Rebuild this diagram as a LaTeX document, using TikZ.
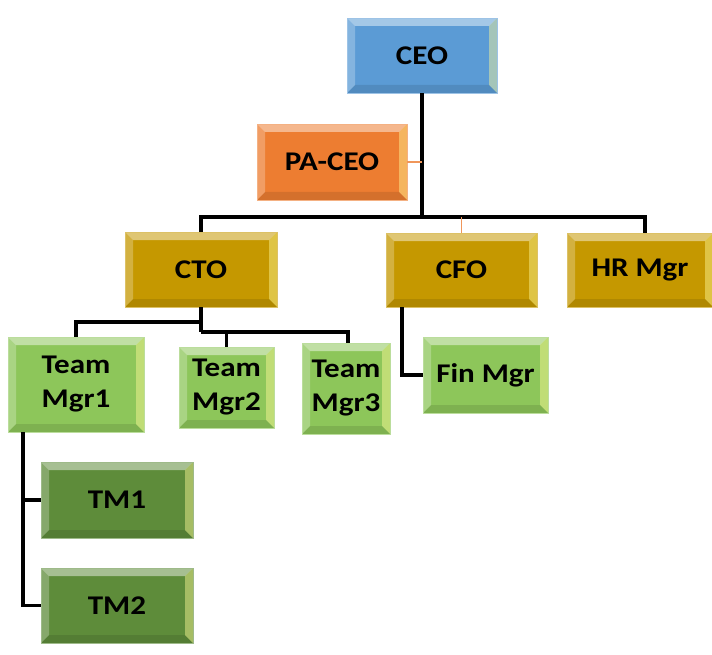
\documentclass[tikz,border=0pt]{standalone}
\usepackage{fontspec}
\setmainfont{Carlito}[FakeStretch=1.15]
\definecolor{ceoblue}{RGB}{91,155,213}
\definecolor{paorange}{RGB}{237,125,49}
\definecolor{gold}{RGB}{197,152,0}
\definecolor{lgreen}{RGB}{141,198,90}
\definecolor{dgreen}{RGB}{94,140,58}
\definecolor{lineorange}{RGB}{240,150,90}
\tikzset{
  bev/.style={rectangle, inner sep=0pt, fill=#1, draw=#1!60!white, line width=0.8pt,
    font=\bfseries\fontsize{27}{34}\selectfont, align=center, text=black,
    path picture={
      \fill[white,opacity=0.45] (path picture bounding box.north west) -- (path picture bounding box.north east)
        -- ([xshift=-8pt,yshift=-8pt]path picture bounding box.north east) -- ([xshift=8pt,yshift=-8pt]path picture bounding box.north west) -- cycle;
      \fill[white,opacity=0.25] (path picture bounding box.north west) -- ([xshift=8pt,yshift=-8pt]path picture bounding box.north west)
        -- ([xshift=8pt,yshift=8pt]path picture bounding box.south west) -- (path picture bounding box.south west) -- cycle;
      \fill[yellow!40!white,opacity=0.45] (path picture bounding box.north east) -- ([xshift=-8pt,yshift=-8pt]path picture bounding box.north east)
        -- ([xshift=-8pt,yshift=8pt]path picture bounding box.south east) -- (path picture bounding box.south east) -- cycle;
      \fill[black,opacity=0.10] (path picture bounding box.south west) -- ([xshift=8pt,yshift=8pt]path picture bounding box.south west)
        -- ([xshift=-8pt,yshift=8pt]path picture bounding box.south east) -- (path picture bounding box.south east) -- cycle;
    }},
  conn/.style={line width=3.2pt, black},
  oconn/.style={line width=1.5pt, lineorange},
}
\begin{document}
\begin{tikzpicture}[x=1pt,y=-1pt]
\useasboundingbox (0,0) rectangle (712,655);
\coordinate (bus) at (422,217);
\coordinate (c1) at (201,322);
\coordinate (c2) at (201,332);
\node[bev=ceoblue, minimum width=150pt, minimum height=75pt] (CEO) at (422,55.5) {CEO};
\node[bev=paorange, minimum width=150pt, minimum height=76pt] (PA) at (332,162) {PA-CEO};
\node[bev=gold, minimum width=152pt, minimum height=75pt] (CTO) at (201,269.5) {CTO};
\node[bev=gold, minimum width=151pt, minimum height=74pt] (CFO) at (461.5,270) {CFO};
\node[bev=gold, minimum width=146pt, minimum height=74pt] (HR) at (640,270) {HR Mgr};
\node[bev=lgreen, minimum width=136pt, minimum height=95pt] (TG1) at (76,384.5) {Team\\Mgr1};
\node[bev=lgreen, minimum width=95pt, minimum height=81pt] (TG2) at (226.5,387.5) {Team\\Mgr2};
\node[bev=lgreen, minimum width=88pt, minimum height=91pt] (TG3) at (346,388.5) {Team\\Mgr3};
\node[bev=lgreen, minimum width=125pt, minimum height=76pt] (FIN) at (485.5,375) {Fin Mgr};
\node[bev=dgreen, minimum width=152pt, minimum height=76pt] (TM1) at (117,500) {TM1};
\node[bev=dgreen, minimum width=152pt, minimum height=75pt] (TM2) at (117,605.5) {TM2};
\draw[conn] (CEO.south) -- (bus);
\draw[conn] (CTO.north) |- (bus) -| ([xshift=5pt]HR.north);
\draw[oconn] (CFO.north) -- (CFO.north |- bus);
\draw[oconn] (PA.east) -- (PA.east -| bus);
\draw[conn] (CTO.south) -- (c2);
\draw[conn] (c1) -| (TG1.north);
\draw[conn] (c2) -| (TG2.north);
\draw[conn] (c2) -| ([xshift=2pt]TG3.north);
\draw[conn] ([xshift=-59.5pt]CFO.south) |- (FIN.west);
\draw[conn] ([xshift=-53pt]TG1.south) |- (TM1.west);
\draw[conn] ([xshift=-53pt]TG1.south) |- (TM2.west);
\end{tikzpicture}
\end{document}
